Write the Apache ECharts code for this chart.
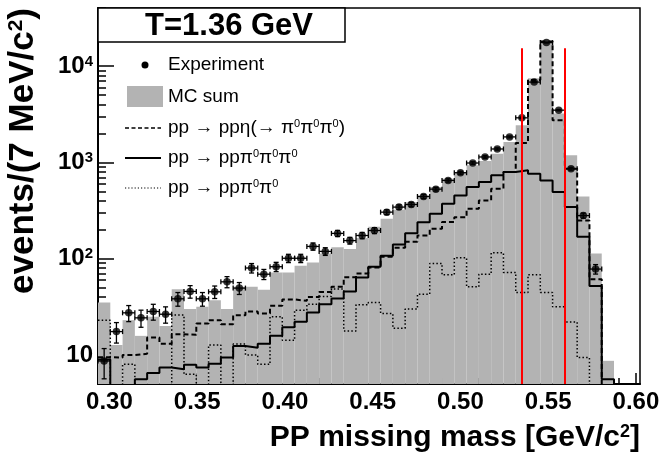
<!DOCTYPE html>
<html>
<head>
<meta charset="utf-8">
<script src="https://cdn.jsdelivr.net/npm/echarts@6/dist/echarts.min.js"></script>
<style>
html,body{margin:0;padding:0;background:#fff;}
#chart{width:661px;height:455px;}
</style>
</head>
<body>
<div id="chart"></div>
<script>
// ---- data (7 MeV bins) ----
const binLow = 0.2935;
const binWidth = 0.007;
const mcSum = [35, 12.7, 23, 15.8, 24.9, 20, 48, 30, 31.6, 37, 30, 51, 51, 47.5, 72, 72, 84.5, 91.5, 113, 131, 126, 164, 215, 259, 321, 386, 453, 553, 677, 785, 930, 1030, 1231, 1625, 2427, 7450, 18370, 3212, 1183, 442, 113, 8.7];
const etaDecay = [9.5, 9.4, 10, 10.3, 15.2, 13.1, 16.4, 16.2, 21.2, 23, 20.9, 25.9, 28.3, 26.9, 32.4, 37.7, 36.5, 40, 45, 51, 64, 70, 81, 105, 130, 150, 174, 205, 240, 269, 330, 402, 532, 792, 1588, 7150, 18000, 2738, 859, 249, 61, 1];
const threePi = [9, 1, 1, 5.6, 6.5, 7.4, 7.1, 7.9, 7.4, 8.1, 9.4, 12.4, 11.9, 13.1, 15.8, 19.4, 22.2, 27.6, 33.7, 38.6, 45.7, 63.8, 82.5, 107, 140, 184, 239, 292, 372, 453, 553, 624, 733, 792, 826, 762, 649, 491, 343, 169, 52, 5.6];
const twoPi = [23, 1, 8, 1, 1, 1, 26, 6.3, 1, 12.7, 1, 13, 10, 8, 25, 14.2, 29.2, 33.7, 40.4, 48.3, 17.8, 33.2, 35, 27, 19, 30, 42.8, 89, 68, 102, 51, 69, 115, 72, 44.6, 68, 44.6, 31.6, 22, 9.4, 3, 1];
const expData = [8.66, 17.5, 27.4, 24.3, 28.3, 26.5, 38.3, 45.7, 38.3, 45.3, 57.5, 49.5, 80, 69, 82.5, 101, 101, 134, 119, 183, 154, 174, 196, 304, 343, 365, 442, 527, 649, 780, 984, 1137, 1376, 1836, 2897, 6810, 17490, 3480, 859, 280, 78];
const expErr = [3, 4.2, 5.2, 4.9, 5.3, 5.1, 6.2, 6.8, 6.2, 6.7, 7.6, 7, 9, 8.3, 9.1, 10, 10, 11.6, 10.9, 13.5, 12.4, 13.2, 14, 17.4, 18.5, 19, 21, 23, 25.5, 28, 31, 34, 37, 43, 54, 83, 132, 59, 29, 17, 8.8];
const cutLow = 0.5351;
const cutHigh = 0.5597;
const cutTop = 15300;
const xMin = 0.2935, xMax = 0.6023;
const yMin = 5, yMax = 40000;
const xMajor = [0.30, 0.35, 0.40, 0.45, 0.50, 0.55, 0.60];
const xMinor = [0.30, 0.31, 0.32, 0.33, 0.34, 0.35, 0.36, 0.37, 0.38, 0.39, 0.40, 0.41, 0.42, 0.43, 0.44, 0.45, 0.46, 0.47, 0.48, 0.49, 0.50, 0.51, 0.52, 0.53, 0.54, 0.55, 0.56, 0.57, 0.58, 0.59, 0.60];
const yMajor = [10, 100, 1000, 10000];
const yMinor = [6, 7, 8, 9, 20, 30, 40, 50, 60, 70, 80, 90, 200, 300, 400, 500, 600, 700, 800, 900, 2000, 3000, 4000, 5000, 6000, 7000, 8000, 9000, 20000, 30000, 40000];

const FONT = "'Liberation Sans', Arial, Helvetica, sans-serif";
const GRAY = '#b3b3b3';

function stepData(vals) {
  const d = vals.map((v, k) => [binLow + k * binWidth, v]);
  const end = binLow + vals.length * binWidth;
  d.push([end, vals[vals.length - 1]]);
  d.push([end, 0.01]);
  return d;
}
const barData = mcSum.map((v, k) => [binLow + k * binWidth, binLow + (k + 1) * binWidth, v]);
const expPoints = expData.map((v, k) => [binLow + (k + 0.5) * binWidth, v, expErr[k]]);

const chart = echarts.init(document.getElementById('chart'), null, {renderer: 'canvas'});

const supRich = {
  b: {fontSize: 24, fontWeight: 'bold', fontFamily: FONT, color: '#000'},
  s: {fontSize: 15, fontWeight: 'bold', fontFamily: FONT, color: '#000', verticalAlign: 'top'}
};
const legRich = {
  n: {fontSize: 19, fontFamily: FONT, color: '#000'},
  s: {fontSize: 11, fontFamily: FONT, color: '#000', verticalAlign: 'top'}
};

const option = {
  animation: false,
  backgroundColor: '#fff',
  grid: {left: 98, right: 21, top: 8, bottom: 71, show: true, borderColor: '#000', borderWidth: 1.5, backgroundColor: 'transparent', outerBoundsMode: 'none', containLabel: false},
  xAxis: [{
    type: 'value', min: xMin, max: xMax, position: 'bottom',
    axisLine: {show: true, onZero: false, lineStyle: {color: '#000', width: 2}},
    axisTick: {show: true, inside: true, length: 11, customValues: xMajor, lineStyle: {color: '#000', width: 1.5}},
    axisLabel: {show: true, customValues: xMajor, formatter: v => v.toFixed(2), fontSize: 24, fontWeight: 'bold', fontFamily: FONT, color: '#000', margin: 6},
    splitLine: {show: false}
  }, {
    type: 'value', min: xMin, max: xMax, position: 'bottom',
    axisLine: {show: false, onZero: false},
    axisTick: {show: true, inside: true, length: 6, customValues: xMinor, lineStyle: {color: '#000', width: 1.5}},
    axisLabel: {show: false},
    splitLine: {show: false}
  }],
  yAxis: [{
    type: 'log', logBase: 10, min: yMin, max: yMax, position: 'left',
    axisLine: {show: true, onZero: false, lineStyle: {color: '#000', width: 2}},
    axisTick: {show: true, inside: true, length: 16, customValues: yMajor, lineStyle: {color: '#000', width: 1.5}},
    axisLabel: {show: true, customValues: yMajor, margin: 5, rich: supRich,
      formatter: v => v === 10 ? '{b|10}' : '{b|10}{s|' + Math.round(Math.log10(v)) + '}'},
    splitLine: {show: false}
  }, {
    type: 'log', logBase: 10, min: yMin, max: yMax, position: 'left', offset: 0,
    axisLine: {show: false, onZero: false},
    axisTick: {show: true, inside: true, length: 8, customValues: yMinor, lineStyle: {color: '#000', width: 1.5}},
    axisLabel: {show: false},
    splitLine: {show: false}
  }],
  series: [
    {
      name: 'MC sum', type: 'custom', xAxisIndex: 0, yAxisIndex: 0, z: 1, silent: true, clip: true,
      data: barData,
      renderItem: function (params, api) {
        const p0 = api.coord([api.value(0), api.value(2)]);
        const p1 = api.coord([api.value(1), yMin]);
        const rect = echarts.graphic.clipRectByRect({
          x: p0[0], y: p0[1], width: p1[0] - p0[0], height: p1[1] - p0[1]
        }, {x: params.coordSys.x, y: params.coordSys.y, width: params.coordSys.width, height: params.coordSys.height});
        return rect && {type: 'rect', shape: rect, style: {fill: GRAY}};
      }
    },
    {
      name: 'eta', type: 'line', step: 'end', symbol: 'none', z: 3, clip: true, silent: true,
      data: stepData(etaDecay),
      lineStyle: {color: '#000', width: 2, type: [5, 3]}
    },
    {
      name: '3pi', type: 'line', step: 'end', symbol: 'none', z: 3, clip: true, silent: true,
      data: stepData(threePi),
      lineStyle: {color: '#000', width: 2, type: 'solid'}
    },
    {
      name: '2pi', type: 'line', step: 'end', symbol: 'none', z: 3, clip: true, silent: true,
      data: stepData(twoPi),
      lineStyle: {color: '#000', width: 1.5, type: [1.5, 2.2]}
    },
    {
      name: 'errors', type: 'custom', z: 5, silent: true,
      data: expPoints,
      renderItem: function (params, api) {
        const x = api.value(0), y = api.value(1), e = api.value(2);
        const c = api.coord([x, y]);
        const l = api.coord([x - binWidth / 2, y]);
        const r = api.coord([x + binWidth / 2, y]);
        const t = api.coord([x, y + e]);
        const b = api.coord([x, y - e]);
        const cap = 2.5;
        const st = {stroke: '#000', lineWidth: 1.3};
        return {type: 'group', children: [
          {type: 'line', shape: {x1: l[0], y1: c[1], x2: r[0], y2: c[1]}, style: st},
          {type: 'line', shape: {x1: l[0], y1: c[1] - cap, x2: l[0], y2: c[1] + cap}, style: st},
          {type: 'line', shape: {x1: r[0], y1: c[1] - cap, x2: r[0], y2: c[1] + cap}, style: st},
          {type: 'line', shape: {x1: c[0], y1: t[1], x2: c[0], y2: b[1]}, style: st},
          {type: 'line', shape: {x1: c[0] - cap, y1: t[1], x2: c[0] + cap, y2: t[1]}, style: st},
          {type: 'line', shape: {x1: c[0] - cap, y1: b[1], x2: c[0] + cap, y2: b[1]}, style: st}
        ]};
      }
    },
    {
      name: 'Experiment', type: 'scatter', z: 6, silent: true,
      symbol: 'circle', symbolSize: 7.5,
      itemStyle: {color: '#000'},
      data: expPoints.map(p => [p[0], p[1]]),
      markLine: {
        silent: true, symbol: ['none', 'none'], label: {show: false}, z: 7,
        lineStyle: {color: '#ff0000', width: 2, type: 'solid'},
        data: [
          [{coord: [cutLow, yMin]}, {coord: [cutLow, cutTop]}],
          [{coord: [cutHigh, yMin]}, {coord: [cutHigh, cutTop]}]
        ]
      }
    }
  ],
  graphic: [
    // title box
    {type: 'rect', z: 100, shape: {x: 98, y: 8, width: 247, height: 34}, style: {fill: '#fff', stroke: '#000', lineWidth: 1.5}},
    {type: 'text', z: 101, x: 229, y: 26, style: {text: 'T=1.36 GeV', font: 'bold 31px ' + FONT, fill: '#000', align: 'center', verticalAlign: 'middle'}},
    // legend
    {type: 'circle', z: 100, shape: {cx: 145, cy: 65, r: 3.5}, style: {fill: '#000'}},
    {type: 'text', z: 100, x: 168, y: 65, style: {text: 'Experiment', font: '19px ' + FONT, fill: '#000', verticalAlign: 'middle'}},
    {type: 'rect', z: 100, shape: {x: 127, y: 86, width: 36, height: 21}, style: {fill: GRAY}},
    {type: 'text', z: 100, x: 168, y: 96.5, style: {text: 'MC sum', font: '19px ' + FONT, fill: '#000', verticalAlign: 'middle'}},
    {type: 'line', z: 100, shape: {x1: 125, y1: 128, x2: 161, y2: 128}, style: {stroke: '#000', lineWidth: 1.5, lineDash: [4, 2.5]}},
    {type: 'text', z: 100, x: 168, y: 128, style: {
      text: '{n|pp → ppη(→ π}{s|0}{n|π}{s|0}{n|π}{s|0}{n|)}', verticalAlign: 'middle', rich: legRich}},
    {type: 'line', z: 100, shape: {x1: 125, y1: 158, x2: 161, y2: 158}, style: {stroke: '#000', lineWidth: 2}},
    {type: 'text', z: 100, x: 168, y: 158, style: {
      text: '{n|pp → ppπ}{s|0}{n|π}{s|0}{n|π}{s|0}', verticalAlign: 'middle', rich: legRich}},
    {type: 'line', z: 100, shape: {x1: 125, y1: 188, x2: 161, y2: 188}, style: {stroke: '#000', lineWidth: 1.2, lineDash: [1.2, 2]}},
    {type: 'text', z: 100, x: 168, y: 188, style: {
      text: '{n|pp → ppπ}{s|0}{n|π}{s|0}', verticalAlign: 'middle', rich: legRich}},
    // axis titles
    {type: 'text', z: 100, x: 640, y: 438, style: {
      text: '{t|PP missing mass [GeV/c}{s|2}{t|]}', align: 'right', verticalAlign: 'middle',
      rich: {t: {fontSize: 30, fontWeight: 'bold', fontFamily: FONT, color: '#000'}, s: {fontSize: 18, fontWeight: 'bold', fontFamily: FONT, color: '#000', verticalAlign: 'top'}}}},
    {type: 'text', z: 100, x: 23, y: 8, rotation: Math.PI / 2, style: {
      text: '{t|events/(7 MeV/c}{s|2}{t|)}', align: 'right', verticalAlign: 'middle',
      rich: {t: {fontSize: 35, fontWeight: 'bold', fontFamily: FONT, color: '#000'}, s: {fontSize: 21, fontWeight: 'bold', fontFamily: FONT, color: '#000', verticalAlign: 'top'}}}}
  ]
};
chart.setOption(option);
</script>
</body>
</html>
